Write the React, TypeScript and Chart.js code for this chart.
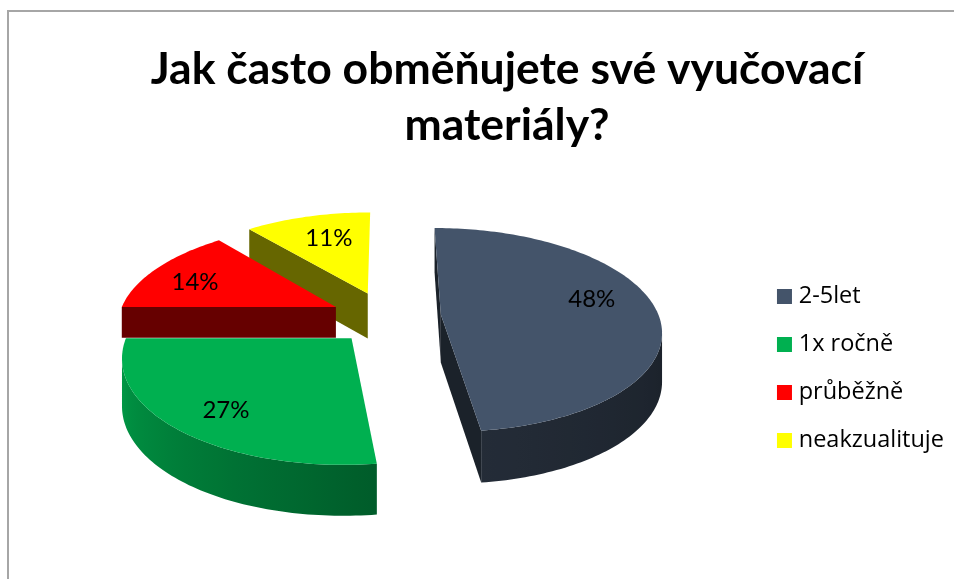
import React, { useEffect, useRef } from "react";
import { Chart, registerables } from "chart.js";

Chart.register(...registerables);

const FONT = "Lato";
const LEGEND_FONT = "Open Sans";
const titleLines = ["Jak často obměňujete své vyučovací", "materiály?"];
const categories = ["2-5let", "1x ročně", "průběžně", "neakzualituje"];
const shares = [48, 27, 14, 11];
const sliceColors = ["#44546A", "#00B050", "#FF0000", "#FFFF00"];
const explode = [48, 65, 62, 59];

// Camera of the tilted 3D projection
const CENTER_X = 393;
const CENTER_Y = 315;
const WORLD_R = 218;
const FLAT_R = 100;
const PERSPECTIVE = 0.15;
const sliceDepth = [48, 46, 31, 46];
const LABEL_FRACTION = 0.65;
const labelNudgeX = [11, -14, -24, -4];
const labelNudgeY = [-10, 16, 5, 0];
const sliceNudgeX = [0, 3, -2, -6];
const sliceNudgeY = [1, 0, 4, 3];
const paintOrder = [3, 2, 0, 1];

type Pt = { x: number; y: number; k: number };

function project(u: number, v: number): Pt {
  const k = 1 / (1 - PERSPECTIVE * v);
  return { x: CENTER_X + u * WORLD_R * k, y: CENTER_Y + v * FLAT_R * k, k };
}

function shade(hex: string, f: number): string {
  const n = parseInt(hex.slice(1), 16);
  const r = Math.round(((n >> 16) & 255) * f);
  const g = Math.round(((n >> 8) & 255) * f);
  const b = Math.round((n & 255) * f);
  return `rgb(${r},${g},${b})`;
}

function rimFactor(angle: number): number {
  const deg = ((angle + Math.PI / 2) * 180) / Math.PI;
  if (deg < 172) return 0.4 + (Math.max(deg, 100) - 100) / 72 * 0.12;
  return 0.52 + (deg - 172) / 88 * 0.35;
}

const pie3d = {
  id: "pie3d",
  beforeDatasetDraw(chart: any) {
    const ctx = chart.ctx;
    const meta = chart.getDatasetMeta(0);
    const total = shares.reduce((a, b) => a + b, 0);
    ctx.save();
    paintOrder.forEach((i) => {
      const el = meta.data[i];
      const color = chart.data.datasets[0].backgroundColor[i];
      const off = el.options.offset / WORLD_R;
      const { startAngle, endAngle } = el;
      const mid = (startAngle + endAngle) / 2;
      const ox = Math.cos(mid) * off;
      const oy = Math.sin(mid) * off;
      const at = (a: number, f: number) => {
        const p = project(ox + Math.cos(a) * f, oy + Math.sin(a) * f);
        return { x: p.x + sliceNudgeX[i], y: p.y + sliceNudgeY[i], k: p.k };
      };
      const steps = Math.max(6, Math.ceil((endAngle - startAngle) / 0.02));
      const apex = at(mid, 0);
      const arc: { p: Pt; a: number }[] = [];
      for (let s = 0; s <= steps; s++) {
        const a = startAngle + ((endAngle - startAngle) * s) / steps;
        arc.push({ p: at(a, 1), a });
      }
      const drop = (p: Pt) => p.y + sliceDepth[i] * Math.sqrt(p.k);
      const quad = (A: Pt, B: Pt) => {
        ctx.beginPath();
        ctx.moveTo(A.x, A.y);
        ctx.lineTo(B.x, B.y);
        ctx.lineTo(B.x, drop(B));
        ctx.lineTo(A.x, drop(A));
        ctx.closePath();
        ctx.fill();
      };
      // flat cut faces that look towards the viewer
      ctx.fillStyle = shade(color, 0.4);
      const first = arc[0].p;
      const last = arc[arc.length - 1].p;
      if (first.x < apex.x) quad(apex, first);
      if (apex.x < last.x - 4) quad(last, apex);
      // curved rim, only the run that faces the viewer
      const run = arc.filter((r, s) => {
        const next = arc[s + 1];
        const prev = arc[s - 1];
        return (next && next.p.x < r.p.x) || (prev && r.p.x < prev.p.x);
      });
      if (run.length > 1) {
        const xs = run.map((r) => r.p.x);
        const minX = Math.min(...xs);
        const maxX = Math.max(...xs);
        const grad = ctx.createLinearGradient(minX, 0, maxX, 0);
        run.forEach((r, s) => {
          if (s % 4 === 0 || s === run.length - 1) {
            grad.addColorStop((r.p.x - minX) / (maxX - minX || 1), shade(color, rimFactor(r.a)));
          }
        });
        ctx.fillStyle = grad;
        ctx.beginPath();
        run.forEach((r, s) => (s ? ctx.lineTo(r.p.x, r.p.y) : ctx.moveTo(r.p.x, r.p.y)));
        [...run].reverse().forEach((r) => ctx.lineTo(r.p.x, drop(r.p)));
        ctx.closePath();
        ctx.fill();
      }
      // top face
      ctx.fillStyle = color;
      ctx.beginPath();
      ctx.moveTo(apex.x, apex.y);
      arc.forEach((r) => ctx.lineTo(r.p.x, r.p.y));
      ctx.closePath();
      ctx.fill();
    });
    // percentage labels
    ctx.fillStyle = "#000";
    ctx.font = `24px ${FONT}`;
    ctx.textAlign = "center";
    ctx.textBaseline = "middle";
    meta.data.forEach((el: any, i: number) => {
      const off = el.options.offset / WORLD_R;
      const mid = (el.startAngle + el.endAngle) / 2;
      const p = project(
        Math.cos(mid) * (off + LABEL_FRACTION),
        Math.sin(mid) * (off + LABEL_FRACTION)
      );
      ctx.fillText(
        `${Math.round((shares[i] / total) * 100)}%`,
        p.x + labelNudgeX[i],
        p.y + labelNudgeY[i]
      );
    });
    ctx.restore();
    return false;
  },
};

export default function App() {
  const ref = useRef<HTMLCanvasElement | null>(null);
  useEffect(() => {
    if (!ref.current) return;
    const chart = new Chart(ref.current, {
      type: "pie",
      data: {
        labels: categories,
        datasets: [
          {
            data: shares,
            backgroundColor: sliceColors,
            borderWidth: 0,
            offset: explode,
          },
        ],
      },
      options: {
        responsive: false,
        animation: false,
        layout: { padding: { left: 60, right: 0, top: 0, bottom: 0 } },
        plugins: {
          tooltip: { enabled: false },
          title: {
            display: true,
            text: titleLines,
            color: "#000",
            font: { family: FONT, size: 44.5, weight: "bold", lineHeight: 1.26 },
            padding: { top: 42, bottom: 106 },
          },
          legend: {
            position: "right",
            align: "start",
            fullSize: false,
            maxWidth: 199,
            labels: {
              usePointStyle: true,
              pointStyle: "rect",
              boxWidth: 5,
              boxHeight: 15,
              padding: 24.5,
              color: "#000",
              font: { family: LEGEND_FONT, size: 23.5 },
            },
          },
        },
      },
      plugins: [pie3d],
    } as any);
    return () => chart.destroy();
  }, []);
  return (
    <div style={{ position: "fixed", left: 0, top: 0, width: 954, height: 579, overflow: "hidden", background: "#fff" }}>
      <div
        style={{
          position: "absolute",
          left: 7,
          top: 10,
          right: 0,
          bottom: 0,
          borderTop: "2px solid #a6a6a6",
          borderLeft: "2px solid #a6a6a6",
        }}
      />
      <canvas ref={ref} width={954} height={579} style={{ position: "absolute", left: 0, top: 0, display: "block" }} />
    </div>
  );
}
